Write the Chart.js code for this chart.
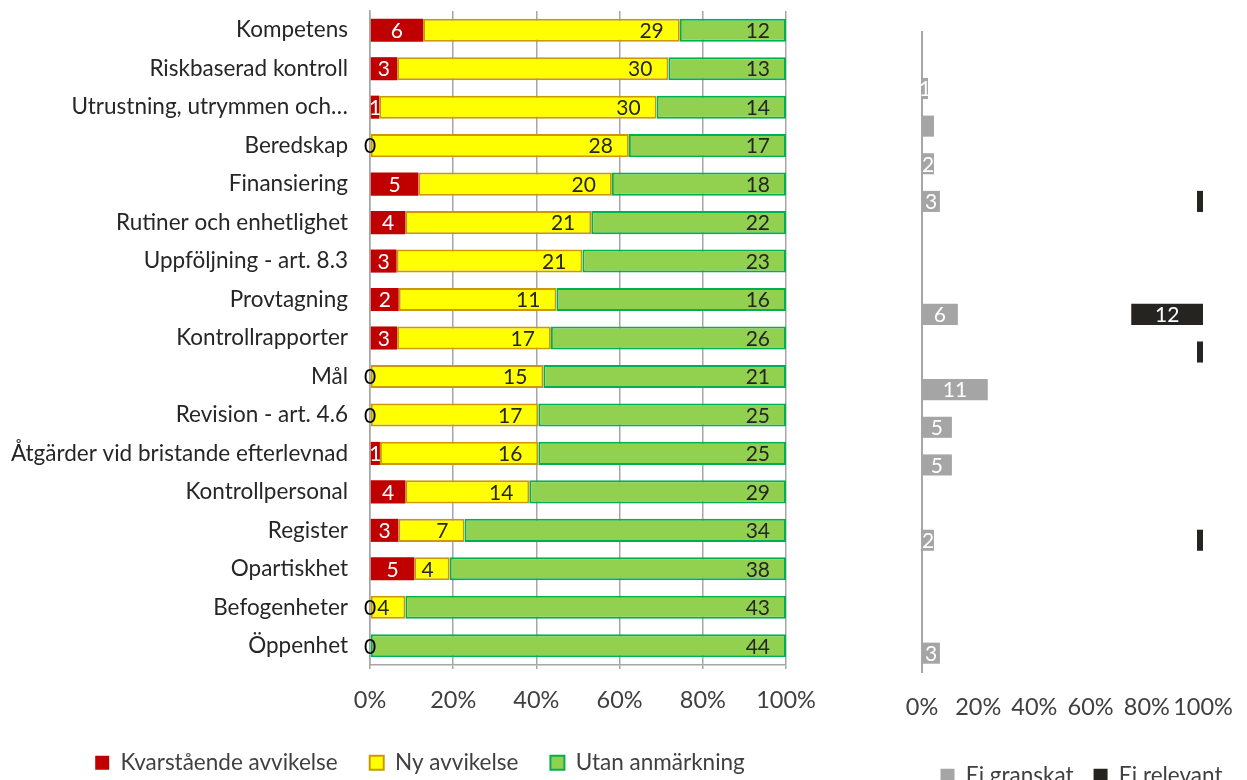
<!DOCTYPE html>
<html lang="sv">
<head>
<meta charset="utf-8">
<title>Granskningsområden</title>
<script src="https://cdn.jsdelivr.net/npm/chart.js@4.4.1/dist/chart.umd.min.js"></script>
<style>
  html, body { margin: 0; padding: 0; background: #fff; overflow: hidden; width: 1247px; height: 780px; }
  #left { position: absolute; left: 0; top: 0; width: 840px; height: 784px; }
  #right { position: absolute; left: 880px; top: 0; width: 403px; height: 797px; }
</style>
</head>
<body>
<div id="left"><canvas id="mainChart"></canvas></div>
<div id="right"><canvas id="sideChart"></canvas></div>
<script>
// Områden (uppifrån och ned)
const categories = [
  "Kompetens", "Riskbaserad kontroll", "Utrustning, utrymmen och…", "Beredskap",
  "Finansiering", "Rutiner och enhetlighet", "Uppföljning - art. 8.3", "Provtagning",
  "Kontrollrapporter", "Mål", "Revision - art. 4.6", "Åtgärder vid bristande efterlevnad",
  "Kontrollpersonal", "Register", "Opartiskhet", "Befogenheter", "Öppenhet"
];

// Antal per område
const kvarstaende    = [6, 3, 1, 0, 5, 4, 3, 2, 3, 0, 0, 1, 4, 3, 5, 0, 0];
const nyAvvikelse    = [29, 30, 30, 28, 20, 21, 21, 11, 17, 15, 17, 16, 14, 7, 4, 4, 0];
const utanAnmarkning = [12, 13, 14, 17, 18, 22, 23, 16, 26, 21, 25, 25, 29, 34, 38, 43, 44];
const eiGranskat     = [0, 1, 2, 2, 3, 0, 0, 6, 0, 11, 5, 5, 0, 2, 0, 0, 3];
const eiRelevant     = [0, 0, 0, 0, 1, 0, 0, 12, 1, 0, 0, 0, 0, 1, 0, 0, 0];

const percentTicks = [0, 20, 40, 60, 80, 100];

const FONT = "Lato, 'Open Sans', sans-serif";
Chart.defaults.font.family = FONT;
Chart.defaults.font.size = 22.5;
Chart.defaults.color = "#404040";

const granskade = categories.map((c, i) => kvarstaende[i] + nyAvvikelse[i] + utanAnmarkning[i]);
const alla = categories.map((c, i) => granskade[i] + eiGranskat[i] + eiRelevant[i]);
const pct = (arr, tot) => arr.map((v, i) => v / tot[i] * 100);

// Etiketter på staplarna (datalabels-pluginet finns inte här)
const barLabels = {
  id: "barLabels",
  afterDatasetsDraw(chart) {
    const ctx = chart.ctx;
    ctx.save();
    ctx.font = "21px " + FONT;
    ctx.textBaseline = "middle";
    chart.data.datasets.forEach((ds, i) => {
      if (!ds.counts) return;
      const meta = chart.getDatasetMeta(i);
      meta.data.forEach((bar, j) => {
        const v = ds.counts[j];
        if (ds.hideZero && v === 0) return;
        if (ds.minLabel && v < ds.minLabel) return;
        if (ds.skipLabels && ds.skipLabels.includes(j)) return;
        const x0 = Math.min(bar.base, bar.x);
        const x1 = Math.max(bar.base, bar.x);
        if (ds.labelPos === "end") {
          ctx.textAlign = "right";
          ctx.fillStyle = ds.labelColor;
          ctx.fillText(String(v), x1 - 16, bar.y + 1);
        } else {
          ctx.textAlign = "center";
          ctx.fillStyle = v === 0 ? "#000" : ds.labelColor;
          ctx.fillText(String(v), (x0 + x1) / 2, bar.y + 1);
        }
      });
    });
    ctx.restore();
  }
};

const noVertPadding = s => { s.paddingTop = 0; s.paddingBottom = 0; };

// tom axel till höger, ger plats åt "100%" och centrerar legenden
const spacer = w => ({
  type: "linear",
  position: "right",
  display: true,
  ticks: { display: false },
  grid: { display: false, drawTicks: false },
  border: { display: false },
  afterFit(s) { s.width = w; noVertPadding(s); }
});

// Huvuddiagram: 100 % staplad
new Chart(document.getElementById("mainChart").getContext("2d"), {
  type: "bar",
  data: {
    labels: categories,
    datasets: [
      {
        label: "Kvarstående avvikelse",
        data: pct(kvarstaende, granskade),
        counts: kvarstaende,
        backgroundColor: "#C00000",
        borderColor: "#C00000",
        borderWidth: 0,
        labelPos: "center",
        labelColor: "#fff"
      },
      {
        label: "Ny avvikelse",
        data: pct(nyAvvikelse, granskade),
        counts: nyAvvikelse,
        hideZero: true,
        backgroundColor: "#FFFF00",
        borderColor: "#C99A06",
        borderWidth: 2,
        borderSkipped: false,
        labelPos: "end",
        labelColor: "#262626"
      },
      {
        label: "Utan anmärkning",
        data: pct(utanAnmarkning, granskade),
        counts: utanAnmarkning,
        hideZero: true,
        backgroundColor: "#92D050",
        borderColor: "#00B050",
        borderWidth: 2,
        borderSkipped: false,
        labelPos: "end",
        labelColor: "#262626"
      }
    ]
  },
  options: {
    indexAxis: "y",
    responsive: true,
    maintainAspectRatio: false,
    animation: false,
    datasets: { bar: { barPercentage: 0.6, categoryPercentage: 1 } },
    layout: { padding: { top: 11, left: 0, right: 0, bottom: 0 } },
    plugins: {
      tooltip: { enabled: false },
      legend: {
        position: "bottom",
        labels: { boxWidth: 14, boxHeight: 14, padding: 32, color: "#404040", font: { size: 22.5 } }
      }
    },
    scales: {
      x: {
        stacked: true,
        min: 0,
        max: 100,
        afterBuildTicks(s) { s.ticks = percentTicks.map(v => ({ value: v })); },
        ticks: { callback: v => v + "%", padding: 17, color: "#404040", font: { size: 23.5 }, maxRotation: 0, autoSkip: false },
        grid: { color: "#A6A6A6", lineWidth: 1.5, tickLength: 4 },
        border: { color: "#A6A6A6", width: 1.5 },
        afterFit(s) { s.height = 54.5; }
      },
      y: {
        stacked: true,
        ticks: { padding: 22, color: "#262626" },
        grid: { display: false, drawTicks: false },
        border: { color: "#A6A6A6", width: 1.5 },
        afterFit(s) { s.width = 370; noVertPadding(s); }
      },
      pad: spacer(54)
    }
  },
  plugins: [barLabels]
});

// Sidodiagram: ej granskat / ej relevant
new Chart(document.getElementById("sideChart").getContext("2d"), {
  type: "bar",
  data: {
    labels: categories,
    datasets: [
      {
        label: "Ei granskat",
        data: pct(eiGranskat, alla),
        counts: eiGranskat,
        hideZero: true,
        skipLabels: [2],
        backgroundColor: "#A5A5A5",
        labelPos: "center",
        labelColor: "#fff"
      },
      {
        label: "Granskade",
        data: pct(granskade, alla),
        backgroundColor: "rgba(0,0,0,0)"
      },
      {
        label: "Ei relevant",
        data: pct(eiRelevant, alla),
        counts: eiRelevant,
        minLabel: 2,
        backgroundColor: "#262421",
        labelPos: "center",
        labelColor: "#fff"
      }
    ]
  },
  options: {
    indexAxis: "y",
    responsive: true,
    maintainAspectRatio: false,
    animation: false,
    datasets: { bar: { barPercentage: 0.56, categoryPercentage: 1 } },
    layout: { padding: { top: 32, left: 0, right: 0, bottom: 0 } },
    plugins: {
      tooltip: { enabled: false },
      legend: {
        position: "bottom",
        labels: {
          boxWidth: 14, boxHeight: 14, padding: 20, color: "#404040", font: { size: 22.5 },
          filter: item => item.datasetIndex !== 1
        }
      }
    },
    scales: {
      x: {
        stacked: true,
        min: 0,
        max: 100,
        afterBuildTicks(s) { s.ticks = percentTicks.map(v => ({ value: v })); },
        ticks: { callback: v => v + "%", padding: 21, color: "#404040", font: { size: 23.5 }, maxRotation: 0, minRotation: 0, autoSkip: false },
        grid: { display: false, drawTicks: false },
        border: { display: false },
        afterFit(s) { s.height = 72.5; }
      },
      y: {
        stacked: true,
        ticks: { display: false },
        grid: { display: false, drawTicks: false },
        border: { color: "#A6A6A6", width: 2 },
        afterFit(s) { s.width = 42; noVertPadding(s); }
      },
      pad: spacer(80)
    }
  },
  plugins: [barLabels]
});
</script>
</body>
</html>
